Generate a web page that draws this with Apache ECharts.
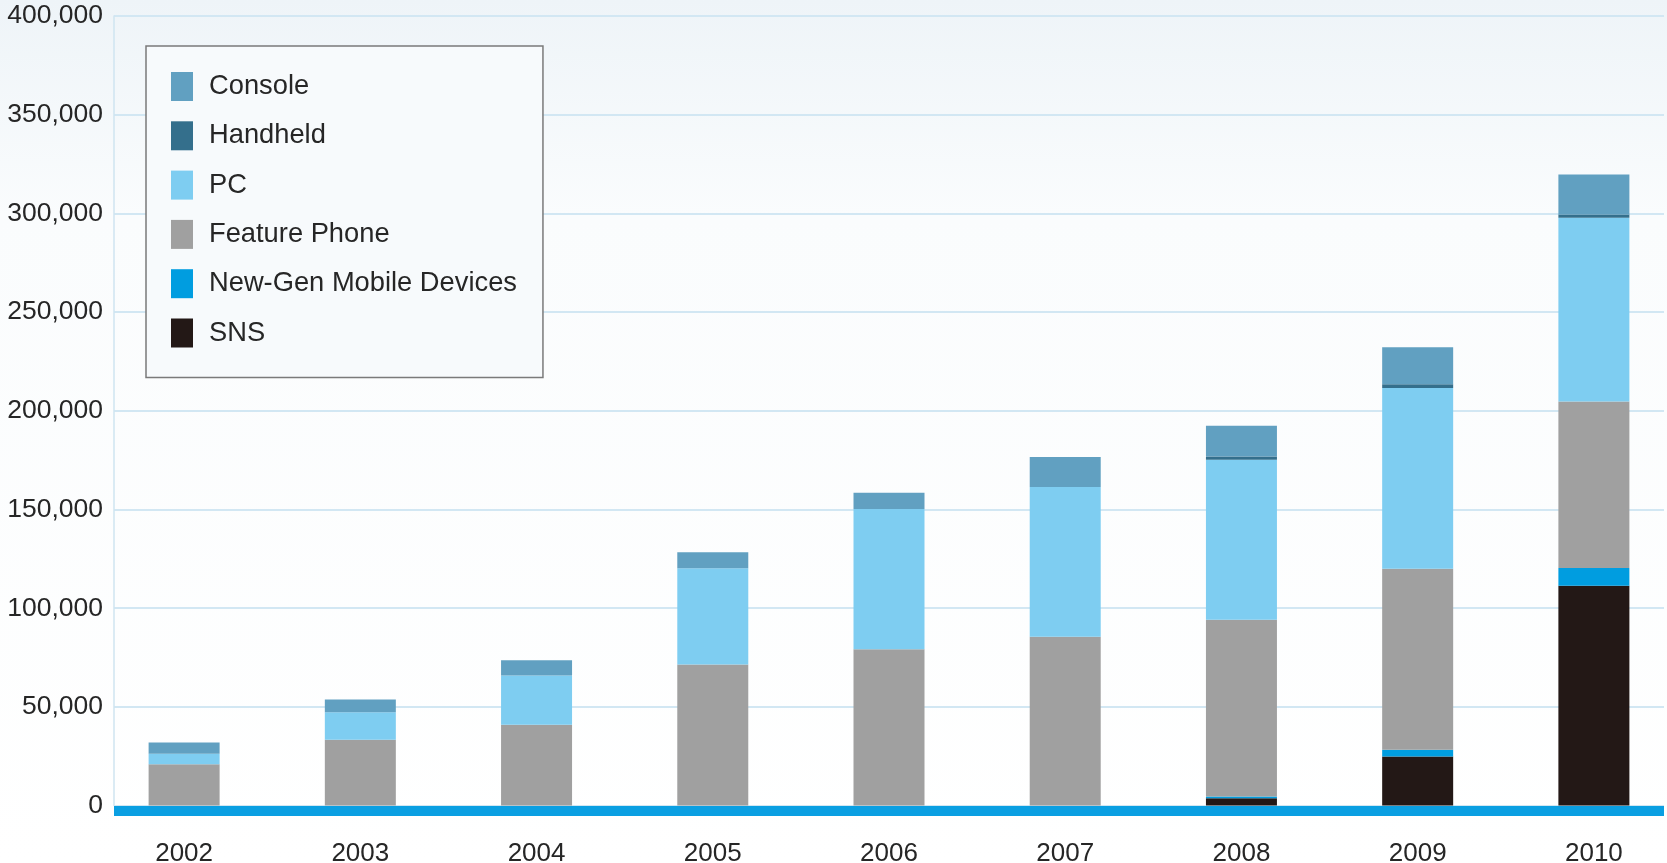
<!DOCTYPE html>
<html>
<head>
<meta charset="utf-8">
<script src="https://cdn.jsdelivr.net/npm/echarts@6/dist/echarts.min.js"></script>
<style>
  html, body { margin: 0; padding: 0; background: #ffffff; }
  #chart { width: 1667px; height: 863px; }
</style>
</head>
<body>
<div id="chart"></div>
<script>
// Game market size by platform, 2002-2010
const years = ['2002', '2003', '2004', '2005', '2006', '2007', '2008', '2009', '2010'];

const sns          = [0, 0, 0, 0, 0, 0, 3700, 24900, 111400];
const newGenMobile = [0, 0, 0, 0, 0, 0, 900, 3400, 9000];
const featurePhone = [21000, 33400, 41000, 71500, 79200, 85600, 89500, 91700, 84300];
const pc           = [5300, 13900, 24900, 48800, 71100, 75800, 81100, 91500, 93100];
const handheld     = [0, 0, 0, 0, 0, 0, 1700, 2000, 1700];
const consoleGames = [5700, 6400, 7700, 8000, 8200, 15200, 15500, 18700, 20200];

const legendOrder = ['Console', 'Handheld', 'PC', 'Feature Phone', 'New-Gen Mobile Devices', 'SNS'];

const yMin = 0, yMax = 400000, yStep = 50000;

const colors = {
  'Console': '#61a0c1',
  'Handheld': '#346f8c',
  'PC': '#7ecdf1',
  'Feature Phone': '#a0a0a0',
  'New-Gen Mobile Devices': '#009de0',
  'SNS': '#231816'
};

// stacked bottom to top
const stackOrder = [
  ['SNS', sns],
  ['New-Gen Mobile Devices', newGenMobile],
  ['Feature Phone', featurePhone],
  ['PC', pc],
  ['Handheld', handheld],
  ['Console', consoleGames]
];

const textColor = '#262626';
const axisFont = "'Liberation Sans', Arial, sans-serif";

const chart = echarts.init(document.getElementById('chart'), null, { renderer: 'canvas' });

chart.setOption({
  animation: false,
  backgroundColor: {
    type: 'linear', x: 0, y: 0, x2: 0, y2: 1,
    colorStops: [
      { offset: 0, color: '#eef4f8' },
      { offset: 0.25, color: '#fafcfd' },
      { offset: 1, color: '#ffffff' }
    ]
  },
  grid: [
    // frame: value labels, gridlines, axis lines
    { left: 114, right: 3, top: 16, bottom: 57.4, containLabel: false, outerBoundsMode: 'none' },
    // bars and year labels
    { left: 96, right: -15, top: 16, bottom: 57.4, containLabel: false, outerBoundsMode: 'none' }
  ],
  legend: {
    data: legendOrder,
    orient: 'vertical',
    left: 146,
    top: 46,
    padding: [26, 26, 30, 25],
    itemWidth: 22,
    itemHeight: 29,
    itemGap: 20.3,
    icon: 'rect',
    backgroundColor: '#f7fafc',
    borderColor: '#7a7a7a',
    borderWidth: 1.5,
    borderRadius: 0,
    textStyle: {
      color: textColor,
      fontFamily: axisFont,
      fontSize: 27.3,
      lineHeight: 29,
      padding: [0, 0, 0, 11]
    }
  },
  xAxis: [
    {
      gridIndex: 0,
      type: 'category',
      data: years,
      boundaryGap: true,
      offset: 5,
      axisLine: { show: true, onZero: false, lineStyle: { color: '#0a9fe2', width: 10, cap: 'butt' } },
      axisTick: { show: false },
      axisLabel: { show: false },
      splitLine: { show: false }
    },
    {
      gridIndex: 1,
      type: 'category',
      data: years,
      boundaryGap: true,
      axisLine: { show: false },
      axisTick: { show: false },
      axisLabel: {
        color: textColor,
        fontFamily: axisFont,
        fontSize: 26,
        margin: 35
      },
      splitLine: { show: false }
    }
  ],
  yAxis: [
    {
      gridIndex: 0,
      type: 'value',
      min: yMin,
      max: yMax,
      interval: yStep,
      axisLine: { show: true, lineStyle: { color: '#cfe4f1', width: 1.5 } },
      axisTick: { show: false },
      axisLabel: {
        color: textColor,
        fontFamily: axisFont,
        fontSize: 26.5,
        margin: 11,
        formatter: v => v.toLocaleString('en-US')
      },
      splitLine: { show: true, lineStyle: { color: '#d2e7f3', width: 2 } }
    },
    {
      gridIndex: 1,
      type: 'value',
      min: yMin,
      max: yMax,
      interval: yStep,
      show: false,
      splitLine: { show: false }
    }
  ],
  series: stackOrder.map(([name, values]) => ({
    name,
    type: 'bar',
    stack: 'total',
    xAxisIndex: 1,
    yAxisIndex: 1,
    barWidth: 71,
    data: values,
    itemStyle: { color: colors[name] },
    emphasis: { disabled: true }
  }))
});
</script>
</body>
</html>
